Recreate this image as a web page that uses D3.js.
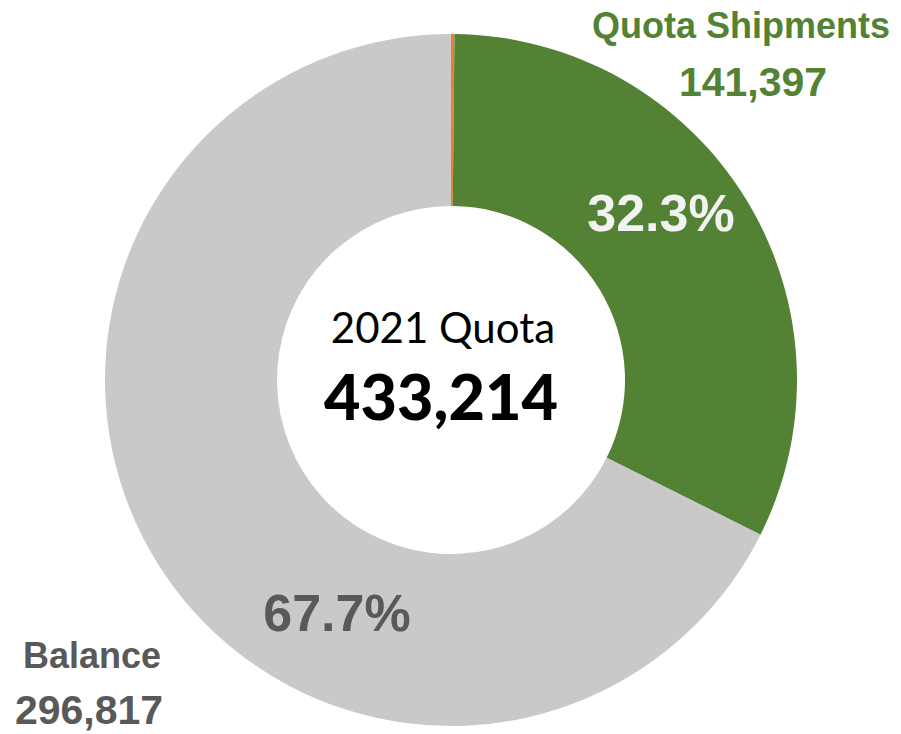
<!DOCTYPE html>
<html>
<head>
<meta charset="utf-8">
<script src="https://cdn.jsdelivr.net/npm/d3@7"></script>
<style>
  body { margin: 0; background: #fff; }
  svg { display: block; }
</style>
</head>
<body>
<svg id="chart"></svg>
<script>
// Data
const categories = ["Other", "Quota Shipments", "Balance"];
const values = [700, 141397, 296817];
const colors = ["#ED7D31", "#548235", "#C9C9C9"];
const quotaTitle = "2021 Quota";
const quotaTotal = 433214;

const width = 901, height = 734;
const cx = 451, cy = 380;
const outerR = 346, innerR = 174;

const svg = d3.select("#chart")
    .attr("width", width)
    .attr("height", height);

const g = svg.append("g")
    .attr("transform", `translate(${cx},${cy})`);

const pie = d3.pie()
    .sort(null)
    .value(d => d.value);

const arc = d3.arc()
    .innerRadius(innerR)
    .outerRadius(outerR);

const data = categories.map((c, i) => ({category: c, value: values[i], color: colors[i]}));

g.selectAll(".slice")
    .data(pie(data))
    .enter()
    .append("path")
    .attr("class", "slice")
    .attr("d", arc)
    .attr("fill", d => d.data.color);

// percentages of shipments vs balance
const mainTotal = values[1] + values[2];
const fmtPct = d3.format(".1%");
const fmtNum = d3.format(",");

// percent labels (positions, relative to centre)
const pctLabels = [
    {text: fmtPct(values[1] / mainTotal), x: 210, y: -149, color: "#F2F2F2"},
    {text: fmtPct(values[2] / mainTotal), x: -114, y: 251, color: "#595959"}
];

g.selectAll(".pct")
    .data(pctLabels)
    .enter()
    .append("text")
    .attr("class", "pct")
    .attr("x", d => d.x)
    .attr("y", d => d.y)
    .attr("text-anchor", "middle")
    .style("font-family", "'Liberation Sans', Arial, sans-serif")
    .style("font-weight", "bold")
    .style("font-size", "52px")
    .style("fill", d => d.color)
    .text(d => d.text);

// category labels outside the ring
const catLabels = [
    {name: categories[1], value: values[1], x: 741, y1: 38, x2: 753, y2: 96, color: "#548235"},
    {name: categories[2], value: values[2], x: 92, y1: 668, x2: 89, y2: 724, color: "#595959"}
];

const cl = svg.selectAll(".cat")
    .data(catLabels)
    .enter()
    .append("g")
    .attr("class", "cat")
    .style("font-family", "'Liberation Sans', Arial, sans-serif")
    .style("font-weight", "bold")
    .style("fill", d => d.color);

cl.append("text")
    .attr("x", d => d.x)
    .attr("y", d => d.y1)
    .attr("text-anchor", "middle")
    .style("font-size", "36px")
    .text(d => d.name);

cl.append("text")
    .attr("x", d => d.x2)
    .attr("y", d => d.y2)
    .attr("text-anchor", "middle")
    .style("font-size", "41px")
    .text(d => fmtNum(d.value));

// centre text
g.append("text")
    .attr("x", -8)
    .attr("y", -37)
    .attr("text-anchor", "middle")
    .style("font-family", "Lato, 'Open Sans', sans-serif")
    .style("font-size", "42px")
    .style("fill", "#000")
    .text(quotaTitle);

g.append("text")
    .attr("x", -10)
    .attr("y", 40)
    .attr("text-anchor", "middle")
    .style("font-family", "Lato, 'Open Sans', sans-serif")
    .style("font-weight", "900")
    .style("font-size", "63px")
    .style("fill", "#000")
    .text(fmtNum(quotaTotal));
</script>
</body>
</html>
